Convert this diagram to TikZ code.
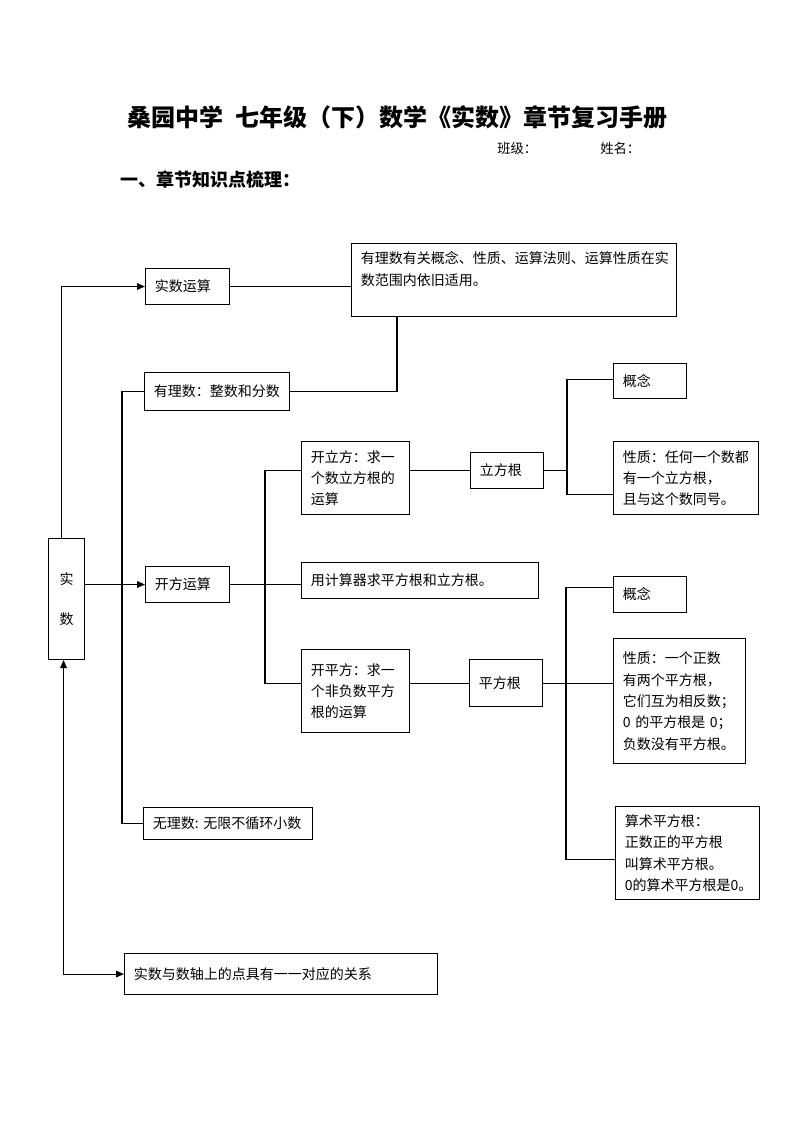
\documentclass[tikz,border=0pt]{standalone}
\usepackage{fontspec}
\setmainfont{Noto Sans CJK SC}
\usetikzlibrary{arrows.meta, positioning, calc}

\begin{document}
\begin{tikzpicture}[
        x=0.75pt, y=-0.75pt,
        box/.style={rectangle, draw, line width=0.8pt, anchor=north west, align=left, inner xsep=7pt, inner ysep=0pt, font=\fontsize{10.5pt}{16pt}\selectfont},
        line/.style={line width=0.8pt},
        arrow/.style={line width=0.8pt, -{Triangle[length=6pt, width=5pt]}},
        biarrow/.style={line width=0.8pt, {Triangle[length=6pt, width=5pt]}-{Triangle[length=6pt, width=5pt]}}
    ]
    \useasboundingbox (0,0) rectangle (794,1123);

    % Page heading
    \node[inner sep=0pt, font=\bfseries\fontsize{18pt}{22pt}\selectfont] (title) at (397,117) {桑园中学\hspace{0.5em}七年级（下）数学《实数》章节复习手册};
    \node[anchor=west, inner sep=0pt, font=\fontsize{10pt}{12pt}\selectfont] (banji) at (497,148) {班级：};
    \node[anchor=west, inner sep=0pt, font=\fontsize{10pt}{12pt}\selectfont] (xingming) at (600,148) {姓名：};
    \node[anchor=west, inner sep=0pt, font=\bfseries\fontsize{13.5pt}{16pt}\selectfont] (outline) at (120,180) {一、章节知识点梳理：};

    % Real numbers
    \node[box, align=center, inner xsep=0pt, minimum width=27pt, minimum height=90.75pt] (shishu) at (48,538) {实\\[14pt]数};

    % Operations
    \node[box, text width=49pt, minimum height=27pt] (yunsuan) at (145,268) {实数运算};
    \node[box, text width=229.75pt, inner ysep=6pt, text height=9.2pt, text depth=33.5pt] (rule) at (351,243) {有理数有关概念、性质、运算法则、运算性质在实\\数范围内依旧适用。};

    % Rational and irrational numbers
    \node[box, text width=94.75pt, minimum height=28.5pt] (youli) at (144,372) {有理数：整数和分数};
    \node[box, text width=112.75pt, minimum height=24pt] (wuli) at (143,807) {无理数:~无限不循环小数};
    \node[box, text width=220.75pt, minimum height=30.75pt] (zhou) at (124,953) {实数与数轴上的点具有一一对应的关系};

    % Roots
    \node[box, text width=49pt, minimum height=27pt] (kaifang) at (145,566) {开方运算};
    \node[box, text width=67pt, minimum height=54.75pt] (kailifang) at (301,441) {开立方：求一\\个数立方根的\\运算};
    \node[box, text width=163.75pt, minimum height=27pt] (jisuanqi) at (301,562) {用计算器求平方根和立方根。};
    \node[box, text width=67pt, minimum height=62.25pt] (kaipingfang) at (301,649) {开平方：求一\\个非负数平方\\根的运算};
    \node[box, text width=40.75pt, minimum height=27pt] (lifanggen) at (470,452) {立方根};
    \node[box, text width=40.75pt, minimum height=35.25pt] (pingfanggen) at (469,659) {平方根};

    % Cube root
    \node[box, text width=40.75pt, minimum height=26.25pt] (gainian1) at (613,363) {概念};
    \node[box, text width=94.75pt, minimum height=54.75pt] (xingzhi1) at (613,441) {性质：任何一个数都\\有一个立方根，\\且与这个数同号。};

    % Square root
    \node[box, text width=40.75pt, minimum height=27pt] (gainian2) at (613,576) {概念};
    \node[box, text width=85pt, minimum height=93.75pt] (xingzhi2) at (613,638) {性质：一个正数\\有两个平方根，\\它们互为相反数；\\0 的平方根是 0；\\负数没有平方根。};
    \node[box, text width=94pt, minimum height=69.75pt] (suanshu) at (615,806) {算术平方根：\\正数正的平方根\\叫算术平方根。\\0的算术平方根是0。};

    % Connecting lines
    \draw[arrow] ($(shishu.north)+(-5,0)$) |- (yunsuan.west);
    \draw[line] (yunsuan.east) -- (yunsuan.east -| rule.west);
    \draw[line] ($(rule.south west)+(46,0)$) |- (youli.east);
    \draw[line] (youli.west) -- ++(-22,0) |- (wuli.west);
    \draw[arrow] (shishu.east |- kaifang.west) -- (kaifang.west);
    \draw[biarrow] ($(shishu.south)+(-3,0)$) |- (zhou.west);

    \draw[line] (kaifang.east) -- (kaifang.east -| jisuanqi.west);
    \draw[line] (lifanggen.west -| kailifang.west) -- ++(-36,0) |- (pingfanggen.west -| kaipingfang.west);
    \draw[line] (lifanggen.west -| kailifang.east) -- (lifanggen.west);
    \draw[line] (pingfanggen.west -| kaipingfang.east) -- (pingfanggen.west);

    \draw[line] (lifanggen.east) -- ++(24,0);
    \draw[line] ($(gainian1.west)+(0,-2)$) -- ++(-46,0) |- ($(xingzhi1.west)+(0,16)$);
    \draw[line] (pingfanggen.east) -- (pingfanggen.east -| xingzhi2.west);
    \draw[line] ($(gainian2.west)+(0,-7)$) -- ++(-47,0) |- ($(suanshu.west)+(0,6)$);

\end{tikzpicture}
\end{document}
